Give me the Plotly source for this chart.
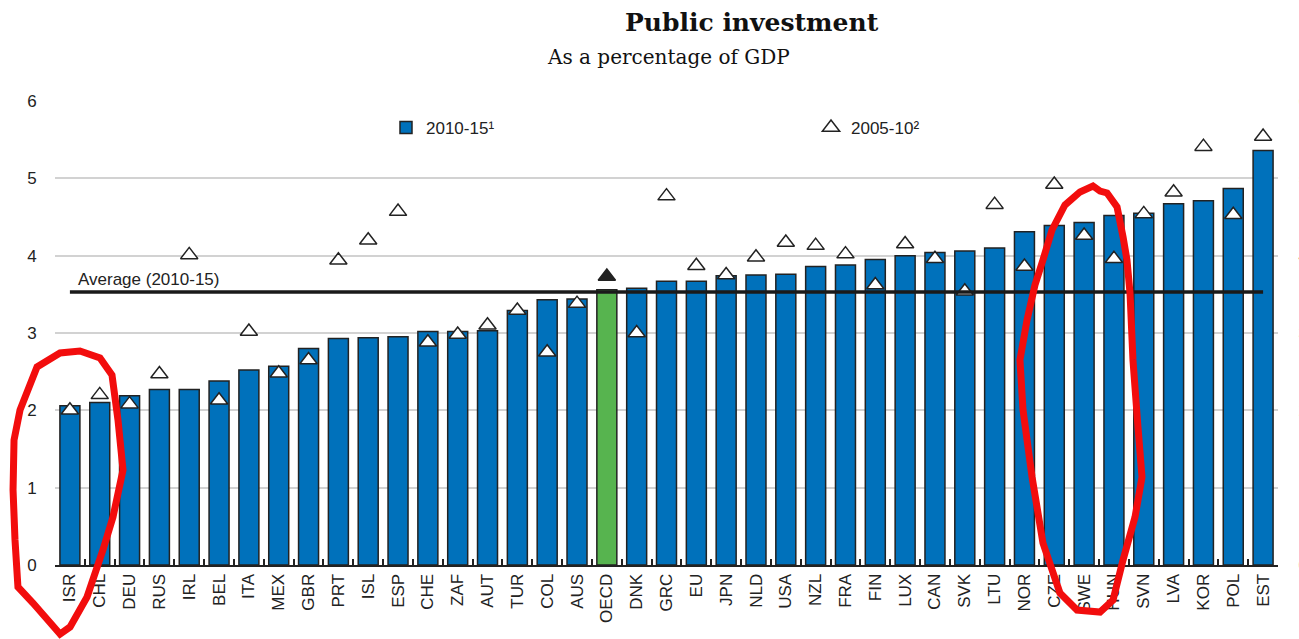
import plotly.graph_objects as go

# data
countries = ["ISR", "CHL", "DEU", "RUS", "IRL", "BEL", "ITA", "MEX", "GBR", "PRT",
             "ISL", "ESP", "CHE", "ZAF", "AUT", "TUR", "COL", "AUS", "OECD", "DNK",
             "GRC", "EU", "JPN", "NLD", "USA", "NZL", "FRA", "FIN", "LUX", "CAN",
             "SVK", "LTU", "NOR", "CZE", "SWE", "HUN", "SVN", "LVA", "KOR", "POL", "EST"]
inv_2010_15 = [2.06, 2.10, 2.19, 2.27, 2.27, 2.38, 2.52, 2.57, 2.80, 2.93,
               2.94, 2.95, 3.02, 3.02, 3.03, 3.29, 3.43, 3.44, 3.56, 3.58,
               3.67, 3.67, 3.74, 3.75, 3.76, 3.86, 3.88, 3.95, 4.00, 4.04,
               4.06, 4.10, 4.31, 4.39, 4.43, 4.52, 4.55, 4.67, 4.71, 4.87, 5.36]
inv_2005_10 = [2.00, 2.20, 2.08, 2.47, 4.01, 2.13, 3.02, 2.48, 2.65, 3.94,
               4.20, 4.57, 2.88, 2.98, 3.10, 3.29, 2.75, 3.38, 3.73, 3.00,
               4.77, 3.87, 3.75, 3.98, 4.17, 4.13, 4.02, 3.62, 4.15, 3.96,
               3.54, 4.66, 3.86, 4.92, 4.26, 3.96, 4.54, 4.82, 5.41, 4.53, 5.54]
average_2010_15 = 3.53
y_ticks = [0, 1, 2, 3, 4, 5, 6]

W, H = 1299, 639
ML, MR, MT, MB = 55, 21, 100, 74
Y_TOP = 6 * (H - MT - MB) / 464  # keeps the 6 gridline just inside the plot area
FONT = "Arial, Liberation Sans, sans-serif"
BLUE = "#0071bb"
GREEN = "#57b44f"
INK = "#222222"


def paper(px, py):
    return (px - ML) / (W - ML - MR), (H - MB - py) / (H - MT - MB)


def scribble(points):
    pts = [paper(x, y) for x, y in points]
    return "M " + " L ".join(f"{x:.4f},{y:.4f}" for x, y in pts) + " Z"


bar_colors = [GREEN if c == "OECD" else BLUE for c in countries]
tri_colors = [INK if c == "OECD" else "white" for c in countries]

fig = go.Figure()
fig.add_trace(go.Bar(
    x=countries, y=inv_2010_15, name="2010-15¹",
    marker=dict(color=bar_colors, line=dict(color=INK, width=1.5)),
    legend="legend",
))
# average line sits on the (identically scaled) right axis so that axis gets drawn
fig.add_trace(go.Scatter(
    x=[countries[0], countries[-1]], y=[average_2010_15, average_2010_15], yaxis="y2",
    mode="lines", line=dict(color="#1a1a1a", width=3.5), showlegend=False,
))
fig.add_trace(go.Scatter(
    x=countries, y=inv_2005_10, name="2005-10²", mode="markers",
    marker=dict(symbol="triangle-up", size=15, color=tri_colors,
                line=dict(color=INK, width=1.5)),
    legend="legend2",
))

fig.add_annotation(x=countries[0], y=average_2010_15, text="Average (2010-15)",
                   xanchor="left", yanchor="bottom", xshift=6, yshift=1, showarrow=False,
                   font=dict(family=FONT, size=17, color=INK))

tx, ty = paper(752, 22)
fig.add_annotation(x=tx, y=ty, xref="paper", yref="paper", text="<b>Public investment</b>",
                   showarrow=False, xanchor="center", yanchor="middle",
                   font=dict(family="DejaVu Serif, serif", size=25, color="#111111"))
sx, sy = paper(668, 57)
fig.add_annotation(x=sx, y=sy, xref="paper", yref="paper", text="As a percentage of GDP",
                   showarrow=False, xanchor="center", yanchor="middle",
                   font=dict(family="DejaVu Serif, serif", size=20, color="#111111"))

# hand-drawn red loops over the original picture
left_loop = [(60, 634), (33, 603), (18, 587), (15, 540), (13, 490), (14, 440), (20, 410),
             (37, 367), (60, 353), (80, 351), (100, 358), (112, 375), (118, 420),
             (123, 470), (113, 517), (103, 550), (87, 597), (70, 627)]
right_loop = [(1043, 260), (1052, 230), (1065, 205), (1080, 192), (1093, 186), (1100, 191),
              (1107, 193), (1117, 207), (1123, 237), (1127, 260), (1130, 293), (1133, 360),
              (1138, 427), (1142, 477), (1135, 517), (1123, 560), (1113, 600), (1100, 612),
              (1077, 610), (1060, 593), (1043, 543), (1032, 477), (1023, 410), (1020, 360),
              (1027, 320), (1035, 285)]
for loop in (left_loop, right_loop):
    fig.add_shape(type="path", path=scribble(loop), xref="paper", yref="paper",
                  line=dict(color="#f20d0d", width=7), layer="above")

lx1, ly = paper(386, 128)
lx2, _ = paper(811, 128)
fig.update_layout(
    width=W, height=H,
    margin=dict(l=ML, r=MR, t=MT, b=MB, autoexpand=False),
    plot_bgcolor="white", paper_bgcolor="white",
    bargap=0.33,
    font=dict(family=FONT, size=17, color=INK),
    legend=dict(x=lx1, y=ly, xanchor="left", yanchor="middle", bgcolor="rgba(0,0,0,0)",
                itemwidth=30, font=dict(size=17)),
    legend2=dict(x=lx2, y=ly, xanchor="left", yanchor="middle", bgcolor="rgba(0,0,0,0)",
                 itemwidth=30, font=dict(size=17)),
    xaxis=dict(range=[-0.5, len(countries) - 0.5], tickangle=-90, ticks="inside",
               tickson="boundaries", ticklen=6, tickcolor=INK, tickwidth=1.5,
               showline=True, linecolor=INK, linewidth=2, showgrid=False,
               automargin=False, tickfont=dict(size=17, color=INK)),
    yaxis=dict(range=[0, Y_TOP], tickvals=y_ticks, showgrid=True, gridcolor="#d2d2d2",
               gridwidth=1.5, zeroline=False, showline=False, ticks="outside",
               ticklen=14, tickcolor="rgba(0,0,0,0)", automargin=False,
               tickfont=dict(size=17, color=INK)),
    yaxis2=dict(range=[0, Y_TOP], tickvals=y_ticks, overlaying="y", side="right",
                showgrid=False, zeroline=False, showline=False, ticks="outside",
                ticklen=16, tickcolor="rgba(0,0,0,0)", automargin=False,
                tickfont=dict(size=17, color=INK)),
)

fig.write_html("out.html", config={"displayModeBar": False},
               post_script="document.body.style.margin='0';")
